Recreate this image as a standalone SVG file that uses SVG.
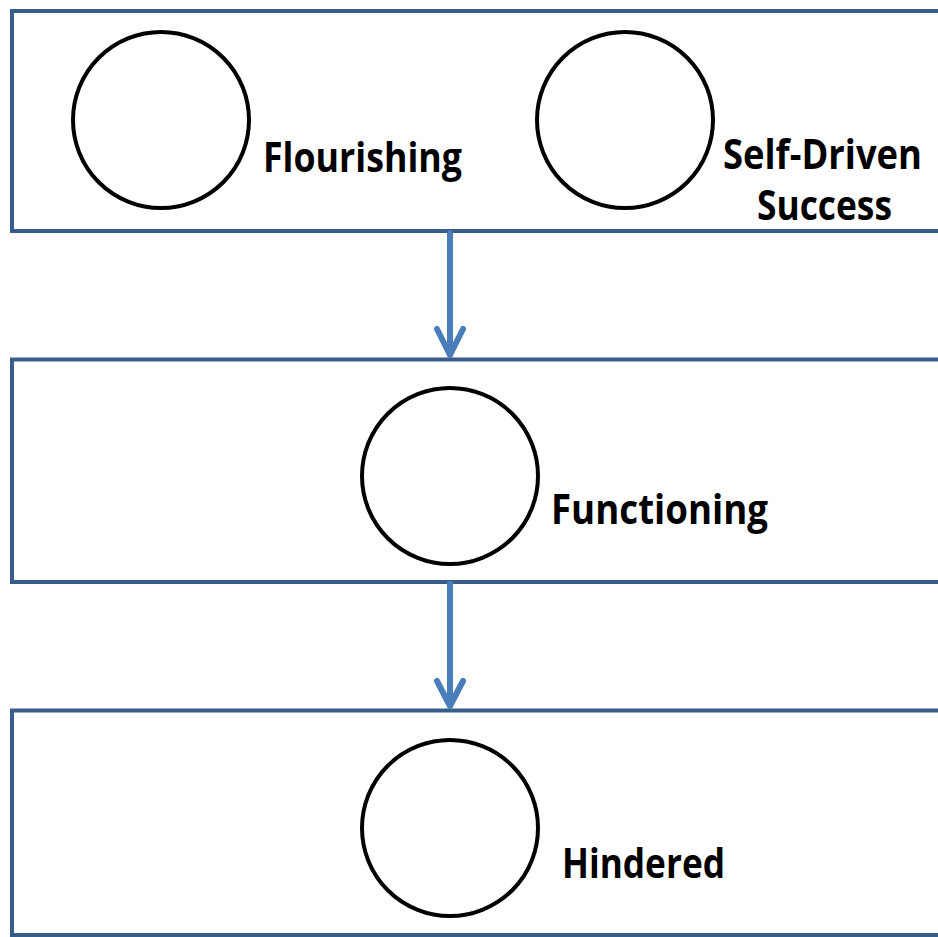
<svg xmlns="http://www.w3.org/2000/svg" width="938" height="937" viewBox="0 0 938 937">
<style>
.box{fill:#fff;stroke:#385d8a;stroke-width:4}
.node{fill:#fff;stroke:#000;stroke-width:4}
.lbl{font-family:"Open Sans","Liberation Sans",sans-serif;font-weight:bold;font-size:41px;fill:#000}
.conn{fill:none;stroke:#4a7ebb;stroke-width:6;stroke-linecap:round;stroke-linejoin:round}
</style>
<rect width="938" height="937" fill="#fff"/>
<g id="band-top"><rect class="box" x="12" y="11" width="940" height="220"/></g>
<g id="band-middle"><rect class="box" x="12" y="359.5" width="940" height="222.5"/></g>
<g id="band-bottom"><rect class="box" x="12" y="710.5" width="940" height="224.5"/></g>
<g id="flourishing">
<circle class="node" cx="161" cy="120" r="88"/>
<text class="lbl" x="263" y="172" textLength="199" lengthAdjust="spacingAndGlyphs">Flourishing</text>
</g>
<g id="self-driven-success">
<circle class="node" cx="625" cy="120" r="88"/>
<text class="lbl" transform="translate(723 169) scale(1 1.14)" x="0" y="0" style="font-size:36px" textLength="199" lengthAdjust="spacingAndGlyphs">Self-Driven</text>
<text class="lbl" x="757" y="220" textLength="135" lengthAdjust="spacingAndGlyphs">Success</text>
</g>
<g id="functioning">
<circle class="node" cx="450" cy="476" r="88"/>
<text class="lbl" x="551" y="524" textLength="217" lengthAdjust="spacingAndGlyphs">Functioning</text>
</g>
<g id="hindered">
<circle class="node" cx="450" cy="828" r="88"/>
<text class="lbl" x="562" y="878" textLength="163" lengthAdjust="spacingAndGlyphs">Hindered</text>
</g>
<g id="connectors">
<path class="conn" d="M450 233 V355 M437 329 L450 355 L463 329"/>
<path class="conn" d="M450 584 V706 M437 681 L450 706 L463 681"/>
</g>
</svg>
